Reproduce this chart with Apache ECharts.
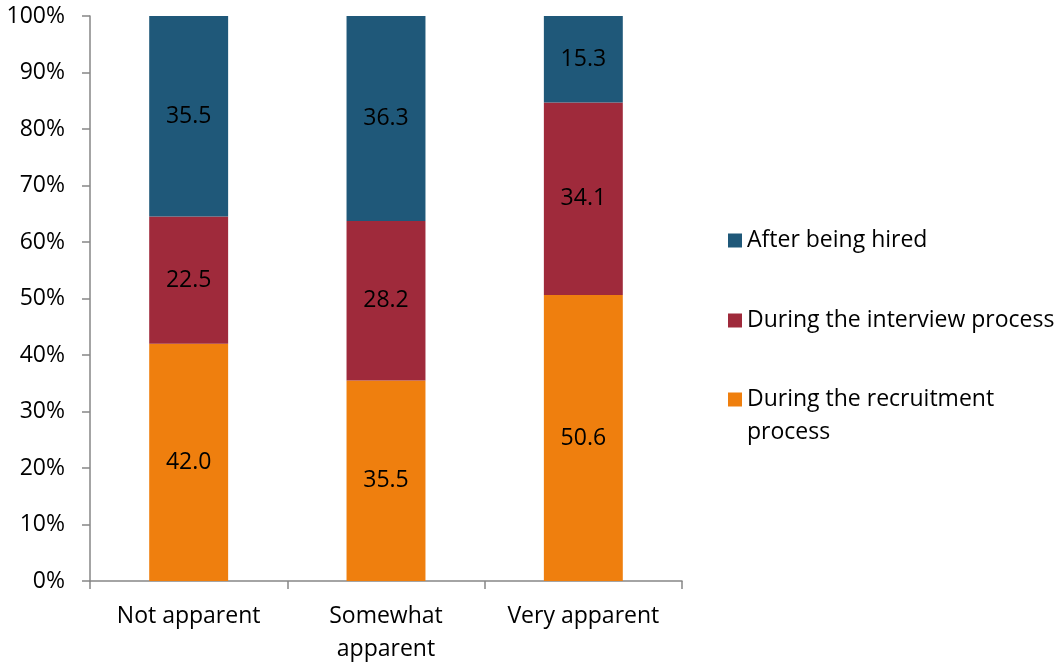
<!DOCTYPE html>
<html><head><meta charset="utf-8">
<script src="https://cdn.jsdelivr.net/npm/echarts@6/dist/echarts.min.js"></script>
<style>html,body{margin:0;padding:0;background:#fff}#c{width:1059px;height:666px}</style>
</head><body><div id="c"></div>
<script>
const categories = ['Not apparent', 'Somewhat\napparent', 'Very apparent'];
const recruitment = [42.0, 35.5, 50.6];
const interview = [22.5, 28.2, 34.1];
const afterHired = [35.5, 36.3, 15.3];
const seriesNames = ['During the recruitment process', 'During the interview process', 'After being hired'];
const colors = ['#EF7F0E', '#9F2A3B', '#1F5879'];
const yTicks = [0, 10, 20, 30, 40, 50, 60, 70, 80, 90, 100];

const FONT = '"Open Sans", sans-serif';
const FS = 23;
const chart = echarts.init(document.getElementById('c'));
const lbl = {show: true, position: 'inside', color: '#000', fontSize: FS, fontFamily: FONT,
  formatter: p => p.value.toFixed(1)};
function legend(name, top, extra) {
  return Object.assign({
    orient: 'vertical', left: 723, top: top, itemWidth: 14, itemHeight: 14, itemGap: 0,
    icon: 'rect', data: [name], selectedMode: false,
    textStyle: {fontSize: FS, fontFamily: FONT, color: '#000', lineHeight: 33}
  }, extra || {});
}
chart.setOption({
  animation: false,
  grid: {left: 90, right: 377, top: 16, bottom: 82, containLabel: false},
  legend: [
    legend(seriesNames[2], 219),
    legend(seriesNames[1], 299),
    legend(seriesNames[0], 345, {
      formatter: () => ' \nDuring the recruitment\nprocess'
    })
  ],
  xAxis: {
    type: 'category', data: categories,
    axisLine: {lineStyle: {color: '#868686', width: 1.5}},
    axisTick: {show: true, length: 8, lineStyle: {color: '#868686', width: 1.5}},
    axisLabel: {color: '#000', fontSize: FS, fontFamily: FONT, margin: 19, lineHeight: 33, interval: 0}
  },
  yAxis: {
    type: 'value', min: 0, max: 100, interval: 10,
    axisLine: {show: true, lineStyle: {color: '#868686', width: 1.5}},
    axisTick: {show: true, length: 8, lineStyle: {color: '#868686', width: 1.5}},
    splitLine: {show: false},
    axisLabel: {color: '#000', fontSize: FS, fontFamily: FONT, margin: 25,
      formatter: v => (yTicks.includes(v) ? v + '%' : '')}
  },
  series: [
    {name: seriesNames[0], type: 'bar', stack: 's', data: recruitment, barWidth: '40%',
      itemStyle: {color: colors[0]}, label: lbl},
    {name: seriesNames[1], type: 'bar', stack: 's', data: interview, barWidth: '40%',
      itemStyle: {color: colors[1]}, label: lbl},
    {name: seriesNames[2], type: 'bar', stack: 's', data: afterHired, barWidth: '40%',
      itemStyle: {color: colors[2]}, label: lbl}
  ]
});
</script></body></html>
